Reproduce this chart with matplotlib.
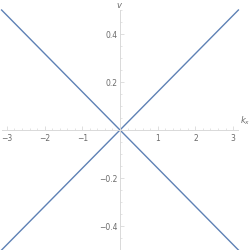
import numpy as np
import matplotlib
matplotlib.use('Agg')
import matplotlib.pyplot as plt

k_range = [-np.pi, np.pi]
x_ticks = [-3, -2, -1, 1, 2, 3]
y_ticks = [-0.4, -0.2, 0.2, 0.4]
y_tick_labels = ['\u22120.4', '\u22120.2', '0.2', '0.4']
x_tick_labels = ['\u22123', '\u22122', '\u22121', '1', '2', '3']

k = np.linspace(k_range[0], k_range[1], 200)
v_plus = k / (2 * np.pi)
v_minus = -k / (2 * np.pi)

line_color = '#5E81B5'
axis_color = '#d9d9d9'
label_color = '#6a6a6a'

fig = plt.figure(figsize=(2.49, 2.51), dpi=100)
ax = fig.add_axes([1.6 / 249, 0.0, 236.8 / 249, 240 / 251])

ax.plot(k, v_plus, color=line_color, lw=1.0, clip_on=False)
ax.plot(k, v_minus, color=line_color, lw=1.0, clip_on=False)

ax.set_xlim(k_range)
ax.set_ylim(-0.5, 0.5)

for side in ['top', 'right']:
    ax.spines[side].set_visible(False)
ax.spines['left'].set_position(('data', 0))
ax.spines['bottom'].set_position(('data', 0))
ax.spines['left'].set_color(axis_color)
ax.spines['bottom'].set_color(axis_color)
ax.spines['left'].set_linewidth(0.7)
ax.spines['bottom'].set_linewidth(0.7)

ax.set_xticks(x_ticks)
ax.set_xticklabels(x_tick_labels)
ax.set_yticks(y_ticks)
ax.set_yticklabels(y_tick_labels)
ax.set_xticks(np.arange(-3, 3.01, 0.2), minor=True)
ax.set_yticks(np.arange(-0.5, 0.501, 0.05), minor=True)
ax.tick_params(axis='both', which='major', direction='in', length=3, width=0.6,
               color=axis_color, labelsize=5.5, labelcolor=label_color, pad=2)
ax.tick_params(axis='both', which='minor', direction='in', length=1.5, width=0.5,
               color=axis_color)

ax.text(1.005, 0.515, '$k_x$', transform=ax.transAxes, fontsize=6, color=label_color,
        ha='left', va='bottom')
ax.text(0.5, 1.005, '$v$', transform=ax.transAxes, fontsize=6, color=label_color,
        ha='center', va='bottom')

ax.patch.set_visible(False)
fig.savefig('out.png', dpi=100)
